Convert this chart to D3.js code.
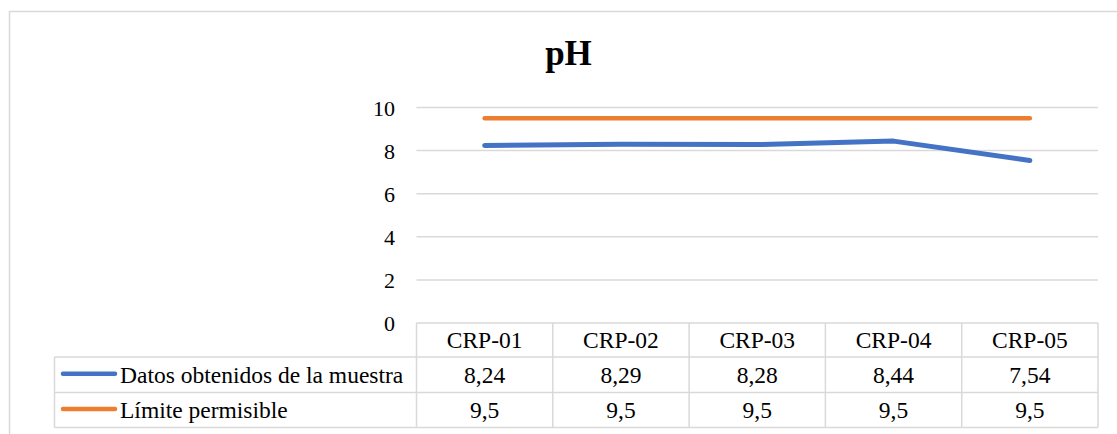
<!DOCTYPE html>
<html>
<head>
<meta charset="utf-8">
<script src="https://cdn.jsdelivr.net/npm/d3@7"></script>
<style>
  html, body { margin: 0; padding: 0; background: #fff; }
  svg { display: block; font-family: "Liberation Serif", "Times New Roman", serif; }
</style>
</head>
<body>
<svg id="chart" width="1117" height="434"></svg>
<script>
const categories = ["CRP-01", "CRP-02", "CRP-03", "CRP-04", "CRP-05"];
const seriesNames = ["Datos obtenidos de la muestra", "Límite permisible"];
const muestra = [8.24, 8.29, 8.28, 8.44, 7.54];
const limite = [9.5, 9.5, 9.5, 9.5, 9.5];
const muestraLabels = ["8,24", "8,29", "8,28", "8,44", "7,54"];
const limiteLabels = ["9,5", "9,5", "9,5", "9,5", "9,5"];
const yTicks = [0, 2, 4, 6, 8, 10];
const colors = ["#4472C4", "#ED7D31"];

const svg = d3.select("#chart");
const grid = "#D9D9D9";

// outer frame
svg.append("rect").attr("x", 9.5).attr("y", 11.5).attr("width", 1200).attr("height", 500)
  .attr("fill", "none").attr("stroke", grid).attr("stroke-width", 1.5);

// title
svg.append("text").attr("x", 568.5).attr("y", 65).attr("text-anchor", "middle")
  .attr("font-size", 35).attr("font-weight", "bold").attr("fill", "#000").text("pH");

const plotLeft = 416.5, plotRight = 1098;
const x = d3.scaleBand().domain(categories).range([plotLeft, plotRight]);
const y = d3.scaleLinear().domain([0, 10]).range([323, 107.5]);

// gridlines (0 is the table top)
svg.append("g").selectAll("line").data(yTicks.filter(d => d > 0)).join("line")
  .attr("x1", plotLeft).attr("x2", plotRight)
  .attr("y1", d => y(d)).attr("y2", d => y(d))
  .attr("stroke", grid).attr("stroke-width", 1.5);

// y axis labels
const yAxis = d3.axisLeft(y).tickValues(yTicks).tickSize(0).tickPadding(0).tickFormat(d3.format("d"));
const ya = svg.append("g").attr("transform", "translate(395,0)").call(yAxis)
  .attr("font-family", "Liberation Serif, serif").attr("font-size", 22);
ya.select(".domain").remove();
ya.selectAll("text").attr("fill", "#000").attr("dy", "0.35em");

// lines
const line = d3.line().x((d, i) => x(categories[i]) + x.bandwidth() / 2).y(d => y(d));
[[limite, colors[1], 4.5], [muestra, colors[0], 5]].forEach(([s, c, w]) => {
  svg.append("path").datum(s).attr("d", line).attr("fill", "none")
    .attr("stroke", c).attr("stroke-width", w)
    .attr("stroke-linecap", "round").attr("stroke-linejoin", "round");
});

// data table
const rowTops = [323, 357, 392.5, 427.5];
const tableLeft = 54.5;
const tg = svg.append("g");
function hline(x1, x2, yy) { tg.append("line").attr("x1", x1).attr("x2", x2).attr("y1", yy).attr("y2", yy).attr("stroke", grid).attr("stroke-width", 1.5); }
function vline(xx, y1, y2) { tg.append("line").attr("x1", xx).attr("x2", xx).attr("y1", y1).attr("y2", y2).attr("stroke", grid).attr("stroke-width", 1.5); }
hline(plotLeft, plotRight, rowTops[0]);
hline(tableLeft, plotRight, rowTops[1]);
hline(tableLeft, plotRight, rowTops[2]);
hline(tableLeft, plotRight, rowTops[3]);
vline(tableLeft, rowTops[1], rowTops[3]);
categories.forEach(c => vline(x(c), rowTops[0], rowTops[3]));
vline(plotRight, rowTops[0], rowTops[3]);

const fs = 23.5;
tg.selectAll("text.h").data(categories).join("text").attr("class", "h")
  .attr("x", d => x(d) + x.bandwidth() / 2).attr("y", (rowTops[0] + rowTops[1]) / 2)
  .attr("dy", "0.35em").attr("text-anchor", "middle").attr("font-size", fs).text(d => d);
[muestraLabels, limiteLabels].forEach((labels, r) => {
  const cy = (rowTops[r + 1] + rowTops[r + 2]) / 2;
  tg.selectAll("text.r" + r).data(labels).join("text").attr("class", "r" + r)
    .attr("x", (d, i) => x(categories[i]) + x.bandwidth() / 2).attr("y", cy)
    .attr("dy", "0.35em").attr("text-anchor", "middle").attr("font-size", fs).text(d => d);
  tg.append("line").attr("x1", 63).attr("x2", 115).attr("y1", cy - 1).attr("y2", cy - 1)
    .attr("stroke", colors[r]).attr("stroke-width", 4.5).attr("stroke-linecap", "round");
  tg.append("text").attr("x", 120).attr("y", cy).attr("dy", "0.35em").attr("font-size", fs)
    .text(seriesNames[r]);
});
</script>
</body>
</html>
